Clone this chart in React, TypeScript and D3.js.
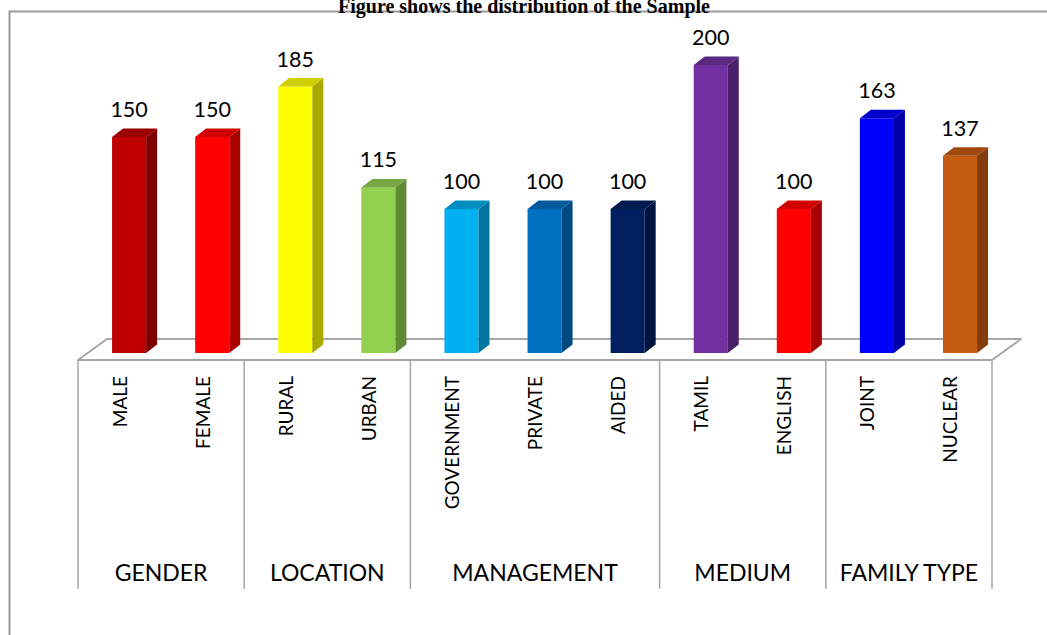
import React from "react";
import * as d3 from "d3";

const groups = ["GENDER", "LOCATION", "MANAGEMENT", "MEDIUM", "FAMILY TYPE"];
const categories = ["MALE", "FEMALE", "RURAL", "URBAN", "GOVERNMENT", "PRIVATE", "AIDED", "TAMIL", "ENGLISH", "JOINT", "NUCLEAR"];
const categoryGroup = [0, 0, 1, 1, 2, 2, 2, 3, 3, 4, 4];
const values = [150, 150, 185, 115, 100, 100, 100, 200, 100, 163, 137];
const barColors = ["#C00000", "#FF0000", "#FFFF00", "#92D050", "#00B0F0", "#0070C0", "#002060", "#7030A0", "#FF0000", "#0000FF", "#C55A11"];
const titleText = "Figure shows the distribution of the Sample";

const W = 1047;
const H = 635;

export default function App() {
  const x = d3.scaleBand<string>().domain(categories).range([78, 992]).padding(0);
  const y = d3.scaleLinear().domain([0, 200]).range([353, 65]);
  const band = x.bandwidth();
  const barW = band * 0.41;
  const ddx = 11;
  const ddy = 8.5;
  const floorFront = 360;
  const floorBack = 339;
  const fdx = 29;
  const axisBottom = 589;
  const gridColor = "#A6A6A6";
  const font = "Lato, 'Open Sans', sans-serif";

  const groupSpans = groups.map((g, gi) => {
    const idx = categories.filter((_, i) => categoryGroup[i] === gi);
    const start = x(idx[0]) as number;
    const end = (x(idx[idx.length - 1]) as number) + band;
    return { g, start, end };
  });
  const boundaries = [groupSpans[0].start, ...groupSpans.map((s) => s.end)];

  const floorPath = d3.path();
  floorPath.moveTo(78, floorFront);
  floorPath.lineTo(78 + fdx, floorBack);
  floorPath.lineTo(992 + fdx, floorBack);
  floorPath.lineTo(992, floorFront);
  floorPath.closePath();

  return (
    <svg width={W} height={H} style={{ position: "absolute", left: 0, top: 0, background: "#fff" }}>
      <rect x={0} y={0} width={W} height={H} fill="#fff" />
      <path d={`M9.5,${H + 5} L9.5,11.5 L${W + 5},11.5`} fill="none" stroke="#9A9A9A" strokeWidth={2} />
      <text x={524} y={13} textAnchor="middle" fontFamily="'Liberation Serif', 'Times New Roman', serif" fontWeight="bold" fontSize={20}>
        {titleText}
      </text>
      <path d={floorPath.toString()} fill="#fff" stroke={gridColor} strokeWidth={2} strokeLinejoin="round" />
      {boundaries.map((b, i) => (
        <line key={i} x1={b} x2={b} y1={floorFront} y2={axisBottom} stroke={gridColor} strokeWidth={1.5} />
      ))}
      {categories.map((c, i) => {
        const L = (x(c) as number) + band * 0.41;
        const R = L + barW;
        const yT = y(values[i]);
        const yB = y(0);
        const col = d3.color(barColors[i])!;
        const side = col.darker(1.15).formatHex();
        const top = col.darker(0.6).formatHex();
        const topD = `M${L},${yT} L${L + ddx},${yT - ddy} L${R + ddx},${yT - ddy} L${R},${yT} Z`;
        const sideD = `M${R},${yT} L${R + ddx},${yT - ddy} L${R + ddx},${yB - ddy} L${R},${yB} Z`;
        return (
          <g key={c}>
            <rect x={L} y={yT} width={barW} height={yB - yT} fill={barColors[i]} />
            <path d={sideD} fill={side} />
            <path d={topD} fill={top} />
            <text x={(L + R) / 2} y={yT - 20} textAnchor="middle" fontFamily={font} fontSize={21.5} fill="#000">
              {values[i]}
            </text>
            <text
              transform={`translate(${(x(c) as number) + band / 2 + 7},376) rotate(-90)`}
              textAnchor="end"
              fontFamily={font}
              fontSize={19}
              fill="#000"
            >
              {c}
            </text>
          </g>
        );
      })}
      {groupSpans.map((s) => (
        <text key={s.g} x={(s.start + s.end) / 2} y={581} textAnchor="middle" fontFamily={font} fontSize={23} fill="#000">
          {s.g}
        </text>
      ))}
    </svg>
  );
}
